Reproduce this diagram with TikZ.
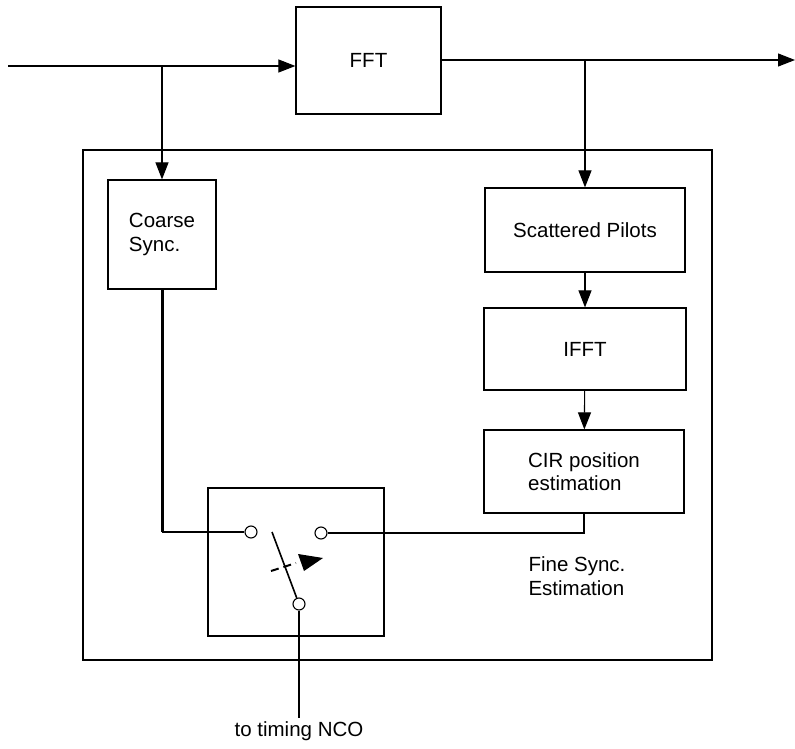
\documentclass[tikz,border=0pt]{standalone}
\usepackage{fontspec}
\setmainfont{Liberation Sans}
\usetikzlibrary{arrows.meta}
\begin{document}
\begin{tikzpicture}[x=1pt,y=-1pt,
  lbl/.style={font=\fontsize{20.5}{23.5}\selectfont},
  blk/.style={draw, line width=1.2pt, inner sep=0pt, lbl, align=center},
  bigbox/.style={draw, line width=2.5pt, inner sep=0pt},
  wire/.style={line width=1.1pt},
  arr/.style={wire, -{Triangle[length=17pt,width=13pt]}},
  contact/.style={draw, circle, fill=white, line width=1.1pt, minimum size=12pt, inner sep=0pt}]
\useasboundingbox (0,0) rectangle (795,749);
% outer estimation box and switch box
\node[bigbox, minimum width=629pt, minimum height=510pt] (est) at (397.5,405) {};
\node[bigbox, minimum width=176pt, minimum height=148pt] (sw) at (296,562) {};
% blocks
\node[blk, minimum width=145pt, minimum height=107pt] (fft) at (368.5,60.5) {FFT};
\node[blk, minimum width=108pt, minimum height=109pt, align=left] (coarse) at (162,234.5) {Coarse\\Sync.};
\node[blk, minimum width=200pt, minimum height=84pt] (sp) at (585,230) {Scattered Pilots};
\node[blk, minimum width=202pt, minimum height=82pt] (ifft) at (585,349) {IFFT};
\node[blk, minimum width=200pt, minimum height=83pt, align=left] (cir) at (584,471.5) {CIR position\\estimation};
% labels
\node[lbl, anchor=west, align=left] (fine) at (525,576) {Fine Sync.\\Estimation};
% main signal path
\coordinate (in) at (8,66);
\coordinate (out) at (795,60);
\coordinate (bl) at (162,66);
\coordinate (br) at (585,60);
\draw[arr] (in) -- (in -| fft.west);
\draw[arr] (fft.east |- out) -- (out);
\draw[arr] (bl) -- (coarse.north);
\draw[arr] (br) -- (sp.north);
\draw[arr] (sp) -- (ifft);
\draw[arr] (ifft) -- (cir);
% switch
\node[contact] (cl) at (251,532) {};
\node[contact] (cr) at (321,533) {};
\node[contact] (cb) at (299,604) {};
\coordinate (bt) at (272,532);
\draw[line width=1.6pt] (bt) -- (cb);
\coordinate (d1) at (271,571);
\coordinate (d2) at (296,563);
\draw[line width=2pt, dash pattern=on 8pt off 5pt] (d1) -- (d2);
\coordinate (t1) at (298,554);
\coordinate (t2) at (323,558);
\coordinate (t3) at (304,571);
\fill (t1) -- (t2) -- (t3) -- cycle;
% connections to switch
\coordinate (cc) at (coarse.south |- cl);
\draw[line width=3pt] (coarse.south) -- (cc);
\draw[wire] (cc) -- (cl.west);
\draw[wire] (cir.south) |- (cr.east);
\coordinate (nco) at (299,718);
\draw[wire] (cb.south) -- (nco);
\node[lbl, anchor=north] (ncolbl) at (nco) {to timing NCO};
\end{tikzpicture}
\end{document}
